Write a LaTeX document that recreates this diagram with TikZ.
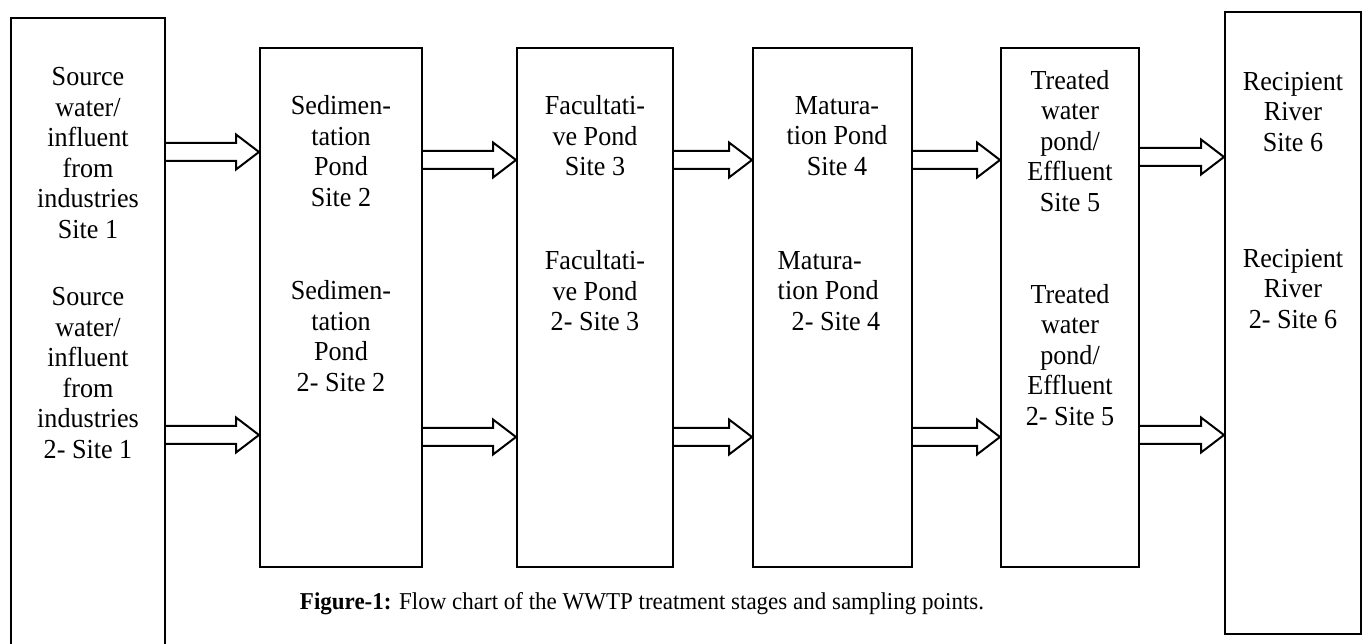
\documentclass[tikz,border=0pt]{standalone}
\usepackage{fontspec}
\setmainfont{Liberation Serif}[FakeStretch=0.95]
\usetikzlibrary{calc}

\tikzstyle{stage-box}=[draw, line width=2pt, inner sep=0pt]
\tikzstyle{stage-text}=[align=center, inner sep=0pt, font=\fontsize{27.5}{30.5}\selectfont]
\tikzstyle{flow-arrow}=[draw, line width=2pt, line join=miter]

% hollow block arrow: from box #1 to box #2 at the height of #3
\newcommand{\flowarrow}[3]{%
  \draw[flow-arrow] let \p1=(#1.east), \p2=(#2.west), \p3=(#3) in
    (\x1,\y3+9pt) -- (\x2-23pt,\y3+9pt) -- (\x2-23pt,\y3+17.5pt)
    -- (\x2,\y3) -- (\x2-23pt,\y3-17.5pt) -- (\x2-23pt,\y3-9pt) -- (\x1,\y3-9pt);
}

\begin{document}
\begin{tikzpicture}[x=1pt, y=1pt]
  \clip (0,0) rectangle (1367,644);

  \node (stage-1) at (88,   310)   [stage-box, minimum width=154pt, minimum height=632pt] {};
  \node (stage-2) at (341,  336.5) [stage-box, minimum width=162pt, minimum height=519pt] {};
  \node (stage-3) at (595,  336.5) [stage-box, minimum width=156pt, minimum height=519pt] {};
  \node (stage-4) at (832.5,336.5) [stage-box, minimum width=159pt, minimum height=519pt] {};
  \node (stage-5) at (1070, 336.5) [stage-box, minimum width=138pt, minimum height=519pt] {};
  \node (stage-6) at (1293, 321)   [stage-box, minimum width=136pt, minimum height=622pt] {};

  \node (site-1a) at (88, 491) [stage-text] {Source\\water/\\influent\\from\\industries\\Site 1};
  \node (site-1b) at (88, 271) [stage-text] {Source\\water/\\influent\\from\\industries\\2- Site 1};
  \node (site-2a) at (341, 493) [stage-text] {Sedimen-\\tation\\Pond\\Site 2};
  \node (site-2b) at (341, 308) [stage-text] {Sedimen-\\tation\\Pond\\2- Site 2};
  \node (site-3a) at (595, 508) [stage-text] {Facultati-\\ve Pond\\Site 3};
  \node (site-3b) at (595, 353) [stage-text] {Facultati-\\ve Pond\\2- Site 3};
  \node (site-4a) at (837, 508) [stage-text] {Matura-\\tion Pond\\Site 4};
  \node (site-4b) at (829, 353) [stage-text, align=left] {Matura-\\tion Pond\\\hspace{14pt}2- Site 4};
  \node (site-5a) at (1070, 503) [stage-text] {Treated\\water\\pond/\\Effluent\\Site 5};
  \node (site-5b) at (1070, 289) [stage-text] {Treated\\water\\pond/\\Effluent\\2- Site 5};
  \node (site-6a) at (1293, 532) [stage-text] {Recipient\\River\\Site 6};
  \node (site-6b) at (1293, 355) [stage-text] {Recipient\\River\\2- Site 6};

  \node (caption) at (642, 40) [inner sep=0pt, font=\fontsize{24.2}{26}\selectfont]
    {\textbf{Figure-1:} Flow chart of the WWTP treatment stages and sampling points.};

  \coordinate (flow-1u) at (0, 492);
  \coordinate (flow-1l) at (0, 209);
  \coordinate (flow-u)  at (0, 484);
  \coordinate (flow-l)  at (0, 207);
  \coordinate (flow-5u) at (0, 487);
  \coordinate (flow-5l) at (0, 209);

  \flowarrow{stage-1}{stage-2}{flow-1u}
  \flowarrow{stage-1}{stage-2}{flow-1l}
  \flowarrow{stage-2}{stage-3}{flow-u}
  \flowarrow{stage-2}{stage-3}{flow-l}
  \flowarrow{stage-3}{stage-4}{flow-u}
  \flowarrow{stage-3}{stage-4}{flow-l}
  \flowarrow{stage-4}{stage-5}{flow-u}
  \flowarrow{stage-4}{stage-5}{flow-l}
  \flowarrow{stage-5}{stage-6}{flow-5u}
  \flowarrow{stage-5}{stage-6}{flow-5l}
\end{tikzpicture}
\end{document}
